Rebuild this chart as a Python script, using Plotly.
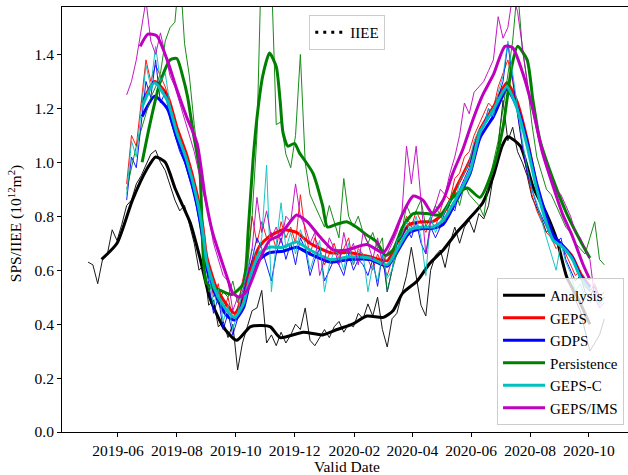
import pandas as pd
import plotly.graph_objects as go

BASE = pd.Timestamp("2019-06-01")


def to_dates(days):
    return [BASE + pd.Timedelta(days=int(d)) for d in days]


# ---------------- daily (thin) series, every 5 days ----------------
analysis_thin_days = list(range(-31, 505, 5))
analysis_thin = [
    0.63, 0.62, 0.55, 0.64, 0.66, 0.75, 0.71, 0.77, 0.84, 0.86,
    0.92, 0.95, 0.99, 1.03, 1.045, 1.00, 0.97, 0.915, 0.86, 0.82,
    0.84, 0.77, 0.70, 0.60, 0.62, 0.47, 0.49, 0.39, 0.41, 0.35,
    0.40, 0.23, 0.33, 0.39, 0.45, 0.46, 0.525, 0.33, 0.36, 0.32,
    0.37, 0.33, 0.36, 0.40, 0.38, 0.46, 0.34, 0.32, 0.35, 0.38,
    0.35, 0.39, 0.41, 0.37, 0.40, 0.39, 0.44, 0.42, 0.475, 0.43,
    0.50, 0.38, 0.315, 0.42, 0.44, 0.51, 0.58, 0.685, 0.58, 0.47,
    0.43, 0.60, 0.655, 0.675, 0.61, 0.70, 0.76, 0.70, 0.76, 0.785,
    0.74, 0.81, 0.79, 0.84, 0.95, 1.06, 1.23, 1.08, 1.13, 1.04,
    1.00, 0.95, 0.87, 0.83, 0.79, 0.74, 0.76, 0.72, 0.66, 0.59,
    0.54, 0.49, 0.45, 0.38, 0.30, 0.33, 0.36, 0.42,
]

model_thin_days = list(range(9, 505, 5))
geps_thin = [
    0.92, 1.10, 1.06, 1.22, 1.38, 1.30, 1.36, 1.32, 1.28, 1.22,
    1.16, 1.10, 1.05, 1.00, 0.93, 0.84, 0.72, 0.60, 0.50, 0.55,
    0.44, 0.50, 0.42, 0.46, 0.56, 0.64, 0.80, 0.70, 0.78, 0.72,
    0.74, 0.68, 0.78, 0.72, 0.76, 0.70, 0.88, 0.74, 0.66, 0.72,
    0.68, 0.62, 0.66, 0.70, 0.64, 0.68, 0.72, 0.62, 0.68, 0.66,
    0.64, 0.60, 0.66, 0.62, 0.58, 0.64, 0.70, 0.74, 0.80, 0.76,
    0.82, 0.78, 0.74, 0.78, 0.76, 0.82, 0.88, 0.86, 0.94, 0.96,
    1.02, 1.04, 1.10, 1.14, 1.18, 1.22, 1.20, 1.28, 1.33, 1.38,
    1.30, 1.18, 1.06, 0.96, 0.88, 0.82, 0.78, 0.74, 0.72, 0.68,
    0.70, 0.66, 0.62, 0.58, 0.60, 0.54, 0.52, 0.55, 0.50, 0.52,
]
gdps_thin = [
    0.86, 1.02, 0.98, 1.15, 1.30, 1.24, 1.38, 1.22, 1.26, 1.16,
    1.10, 1.04, 1.00, 0.94, 0.88, 0.78, 0.66, 0.55, 0.44, 0.50,
    0.38, 0.44, 0.36, 0.42, 0.50, 0.58, 0.64, 0.72, 0.68, 0.62,
    0.56, 0.66, 0.72, 0.64, 0.70, 0.62, 0.72, 0.68, 0.58, 0.64,
    0.68, 0.56, 0.60, 0.64, 0.62, 0.58, 0.66, 0.60, 0.64, 0.62,
    0.58, 0.64, 0.54, 0.66, 0.52, 0.60, 0.70, 0.72, 0.76, 0.72,
    0.78, 0.70, 0.66, 0.76, 0.72, 0.76, 0.82, 0.84, 0.82, 0.90,
    0.94, 0.98, 1.06, 1.10, 1.14, 1.20, 1.16, 1.24, 1.30, 1.44,
    1.30, 1.18, 1.06, 0.96, 0.90, 0.84, 0.80, 0.76, 0.72, 0.70,
    0.72, 0.64, 0.60, 0.56, 0.58, 0.52, 0.50, 0.54, 0.48, 0.50,
]
persistence_thin = [
    0.90, 0.98, 1.06, 1.12, 1.18, 1.24, 1.28, 1.33, 1.45, 1.50,
    1.52, 1.72, 1.44, 1.32, 1.14, 1.00, 0.62, 0.52, 0.55, 0.48,
    0.52, 0.50, 0.56, 0.48, 0.54, 0.60, 0.80, 1.10, 1.80, 1.90,
    1.70, 1.14, 1.15, 1.03, 0.98, 1.10, 1.40, 1.00, 0.88, 0.84,
    0.80, 0.76, 0.84, 0.78, 0.72, 0.94, 0.80, 0.76, 0.80, 0.74,
    0.70, 0.74, 0.68, 0.72, 0.52, 0.60, 0.66, 0.74, 0.84, 0.80,
    0.82, 0.86, 0.76, 0.80, 0.84, 0.80, 0.78, 0.86, 0.90, 0.84,
    0.92, 0.88, 0.86, 0.84, 0.80, 0.92, 1.00, 1.08, 1.20, 1.32,
    1.45, 1.65, 1.42, 1.30, 1.14, 1.02, 0.96, 0.90, 0.88, 0.84,
    0.80, 0.76, 0.74, 0.70, 0.68, 0.66, 0.72, 0.78, 0.64, 0.62,
]
gepsc_thin = [
    0.88, 1.08, 1.02, 1.18, 1.36, 1.28, 1.43, 1.30, 1.33, 1.21,
    1.14, 1.08, 1.04, 0.98, 0.92, 0.82, 0.70, 0.58, 0.47, 0.53,
    0.41, 0.47, 0.38, 0.44, 0.52, 0.60, 0.68, 0.64, 0.72, 0.99,
    0.52, 0.70, 0.85, 0.68, 0.74, 0.66, 0.75, 0.70, 0.60, 0.66,
    0.71, 0.52, 0.62, 0.67, 0.66, 0.60, 0.70, 0.62, 0.67, 0.66,
    0.52, 0.62, 0.56, 0.66, 0.57, 0.60, 0.71, 0.73, 0.78, 0.74,
    0.80, 0.72, 0.58, 0.80, 0.74, 0.78, 0.82, 0.86, 0.84, 0.93,
    0.96, 1.00, 1.08, 1.12, 1.13, 1.20, 1.17, 1.26, 1.32, 1.45,
    1.33, 1.20, 1.08, 0.98, 0.90, 0.85, 0.78, 0.72, 0.66, 0.60,
    0.70, 0.63, 0.59, 0.52, 0.55, 0.50, 0.48, 0.52, 0.47, 0.50,
]
gepsims_thin = [
    1.25, 1.30, 1.38, 1.50, 1.60, 1.45, 1.40, 1.48, 1.40, 1.32,
    1.28, 1.22, 1.16, 1.10, 1.04, 0.96, 0.88, 0.80, 0.70, 0.64,
    0.58, 0.56, 0.45, 0.50, 0.52, 0.58, 0.68, 0.87, 0.74, 0.82,
    0.72, 0.76, 0.70, 0.80, 0.78, 0.92, 0.80, 0.76, 0.70, 0.74,
    0.58, 0.64, 0.72, 0.68, 0.62, 0.74, 0.66, 0.70, 0.62, 0.74,
    0.70, 0.64, 0.72, 0.62, 0.66, 0.70, 0.74, 0.80, 1.06, 0.92,
    1.06, 0.86, 0.66, 0.78, 0.84, 0.90, 0.88, 0.96, 1.02, 1.10,
    1.22, 1.18, 1.26, 1.28, 1.30, 1.34, 1.38, 1.54, 1.46, 1.50,
    1.62, 1.56, 1.42, 1.30, 1.20, 1.12, 1.04, 0.98, 0.94, 0.90,
    0.88, 0.84, 0.80, 0.74, 0.72, 0.68, 0.64, 0.50, 0.46, 0.48,
]

# ---------------- smoothed (thick) series ----------------
analysis_days = [-17, -1, 15, 30, 39, 49, 59, 67, 75, 85, 95, 109, 123, 137, 149,
                 158, 168, 192, 212, 227, 243, 258, 275, 285, 295, 310, 323, 337,
                 351, 365, 378, 389, 398, 404, 417, 430, 444, 455, 465, 476, 489]
analysis_smooth = [0.64, 0.70, 0.86, 0.975, 1.02, 1.0, 0.905, 0.84, 0.775, 0.645,
                   0.50, 0.39, 0.34, 0.39, 0.395, 0.39, 0.35, 0.37, 0.36, 0.38,
                   0.40, 0.43, 0.425, 0.45, 0.515, 0.56, 0.625, 0.675, 0.74, 0.795,
                   0.85, 0.95, 1.06, 1.095, 1.06, 0.91, 0.81, 0.71, 0.575, 0.50, 0.40]

model_days = [25, 38, 51, 61, 71, 82, 88, 92, 102, 113, 121, 130, 137, 147, 157,
              171, 185, 199, 220, 240, 261, 279, 289, 302, 316, 326, 337, 351,
              365, 375, 389, 403, 413, 424, 434, 444, 451, 461, 471, 479, 489]
geps_smooth = [1.22, 1.30, 1.25, 1.13, 1.03, 0.88, 0.76, 0.65, 0.535, 0.47,
               0.44, 0.50, 0.60, 0.69, 0.725, 0.75, 0.74, 0.70, 0.665, 0.665,
               0.65, 0.635, 0.70, 0.77, 0.78, 0.78, 0.81, 0.91, 1.01, 1.12,
               1.205, 1.295, 1.23, 1.085, 0.91, 0.785, 0.72, 0.69, 0.65, 0.59, 0.54]
gdps_smooth = [1.17, 1.245, 1.20, 1.09, 0.99, 0.84, 0.72, 0.61, 0.50, 0.43,
               0.415, 0.46, 0.56, 0.64, 0.665, 0.67, 0.685, 0.66, 0.63, 0.64,
               0.64, 0.615, 0.665, 0.74, 0.755, 0.755, 0.77, 0.86, 0.96, 1.09,
               1.17, 1.27, 1.21, 1.075, 0.92, 0.80, 0.73, 0.69, 0.645, 0.58, 0.535]
gepsc_smooth = [1.205, 1.295, 1.23, 1.11, 1.01, 0.86, 0.74, 0.63, 0.515, 0.45,
                0.425, 0.475, 0.575, 0.665, 0.685, 0.685, 0.705, 0.675, 0.64, 0.65,
                0.645, 0.62, 0.675, 0.75, 0.76, 0.76, 0.785, 0.87, 0.97, 1.11,
                1.195, 1.28, 1.205, 1.06, 0.90, 0.775, 0.71, 0.685, 0.64, 0.575, 0.525]

persistence_days = [25, 33, 43, 54, 61, 67, 72, 78, 85, 88, 92, 106, 118, 130, 135,
                    140, 145, 150, 157, 164, 168, 171, 176, 183, 188, 191, 202, 212,
                    217, 226, 237, 247, 258, 268, 277, 285, 295, 306, 320, 334, 347,
                    362, 375, 389, 399, 408, 414, 424, 430, 437, 451, 465, 479, 489]
persistence_smooth = [1.0, 1.14, 1.29, 1.38, 1.385, 1.32, 1.245, 1.11, 0.96, 0.675,
                      0.55, 0.525, 0.51, 0.55, 0.75, 1.01, 1.195, 1.32, 1.405, 1.355,
                      1.23, 1.11, 1.06, 1.07, 1.035, 1.02, 0.96, 0.84, 0.76, 0.77,
                      0.78, 0.76, 0.73, 0.705, 0.655, 0.675, 0.76, 0.81, 0.81, 0.805,
                      0.87, 0.905, 0.87, 0.98, 1.13, 1.355, 1.43, 1.38, 1.23, 1.085,
                      0.935, 0.81, 0.71, 0.645]

gepsims_days = [23, 31, 40, 51, 61, 71, 82, 90, 98, 106, 113, 119, 126, 134, 140,
                147, 157, 168, 185, 196, 209, 223, 237, 258, 275, 285, 295, 306,
                316, 326, 337, 347, 357, 368, 378, 389, 401, 409, 420, 430, 440,
                451, 461, 471, 482, 489]
gepsims_smooth = [1.43, 1.475, 1.47, 1.38, 1.27, 1.17, 1.07, 0.88, 0.74, 0.65,
                  0.575, 0.515, 0.50, 0.525, 0.575, 0.64, 0.71, 0.73, 0.805, 0.78,
                  0.725, 0.675, 0.675, 0.695, 0.665, 0.725, 0.81, 0.875, 0.86, 0.81,
                  0.86, 0.96, 1.045, 1.16, 1.25, 1.325, 1.43, 1.425, 1.325, 1.195,
                  1.035, 0.91, 0.805, 0.725, 0.62, 0.565]

series = [
    ("Analysis", "#000000", analysis_thin_days, analysis_thin, analysis_days, analysis_smooth),
    ("GEPS", "#ff0000", model_thin_days, geps_thin, model_days, geps_smooth),
    ("GDPS", "#0000ff", model_thin_days, gdps_thin, model_days, gdps_smooth),
    ("Persistence", "#008000", model_thin_days, persistence_thin, persistence_days, persistence_smooth),
    ("GEPS-C", "#00bfbf", model_thin_days, gepsc_thin, model_days, gepsc_smooth),
    ("GEPS/IMS", "#bf00bf", model_thin_days, gepsims_thin, gepsims_days, gepsims_smooth),
]

FONT = "Liberation Serif"
fig = go.Figure()
for name, color, tdays, tvals, sdays, svals in series:
    fig.add_trace(go.Scatter(
        x=to_dates(tdays), y=tvals, mode="lines",
        line=dict(color=color, width=1), opacity=0.9,
        showlegend=False, hoverinfo="skip"))
    fig.add_trace(go.Scatter(
        x=to_dates(sdays), y=svals, mode="lines", name=name,
        line=dict(color=color, width=3, shape="spline", smoothing=0.6),
        legend="legend"))

fig.add_trace(go.Scatter(
    x=[None], y=[None], mode="lines", name="IIEE",
    line=dict(color="#000000", width=3, dash="3px,5px"),
    legend="legend2"))

fig.update_layout(
    width=628, height=475,
    margin=dict(l=62, r=0, t=7, b=43),
    paper_bgcolor="white", plot_bgcolor="white",
    font=dict(family=FONT, size=16, color="#000000"),
    xaxis=dict(
        type="date", range=["2019-04-04", "2020-11-10 12:00"],
        tick0="2019-06-01", dtick="M2", tickformat="%Y-%m",
        ticks="outside", ticklen=4, tickwidth=1, tickcolor="#000000",
        showline=True, linecolor="#000000", linewidth=1, mirror=True,
        showgrid=False, zeroline=False,
        tickfont=dict(family=FONT, size=15.5, color="#000000"),
        automargin=False),
    yaxis=dict(
        range=[0, 1.576], tick0=0, dtick=0.2, tickformat=".1f",
        ticks="outside", ticklen=4, tickwidth=1, tickcolor="#000000",
        showline=True, linecolor="#000000", linewidth=1, mirror=False,
        showgrid=False, zeroline=False,
        tickfont=dict(family=FONT, size=15.5, color="#000000"),
        automargin=False),
    legend=dict(
        x=0.993, y=0.0165, xanchor="right", yanchor="bottom",
        bgcolor="rgba(255,255,255,0.8)", bordercolor="#cccccc", borderwidth=1,
        font=dict(family=FONT, size=15), tracegroupgap=0, itemwidth=42),
    legend2=dict(
        x=0.504, y=0.981, xanchor="center", yanchor="top",
        bgcolor="rgba(255,255,255,0.8)", bordercolor="#cccccc", borderwidth=1,
        font=dict(family=FONT, size=15)),
    annotations=[
        dict(text="Valid Date", x=0.5035, y=-0.082, xref="paper", yref="paper",
             xanchor="center", yanchor="middle", showarrow=False,
             font=dict(family=FONT, size=15.5)),
        dict(text="SPS/IIEE (10<sup>12</sup>m<sup>2</sup>)", x=-0.083, y=0.489,
             xref="paper", yref="paper", xanchor="center", yanchor="middle",
             textangle=-90, showarrow=False, font=dict(family=FONT, size=15.5)),
    ],
)

fig.write_html("out.html", config={"displayModeBar": False},
               post_script="document.body.style.margin='0';document.body.style.overflow='hidden';")
